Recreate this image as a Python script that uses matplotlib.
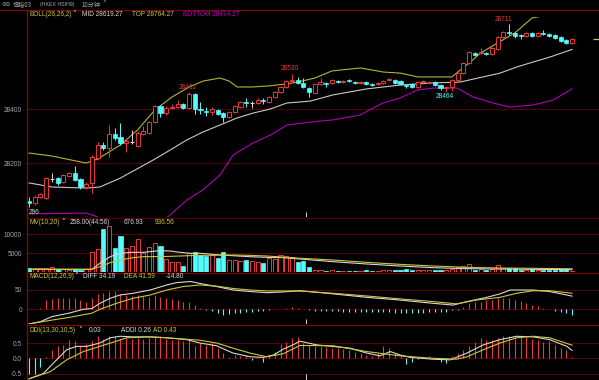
import numpy as np
import matplotlib
matplotlib.use('Agg')
import matplotlib.pyplot as plt
from matplotlib.lines import Line2D

W, H = 599, 380

# ---- 10 minute candles (HSIH9) ----
opens = [28061, 28054, 28076, 28072, 28142, 28146, 28131, 28153, 28164, 28142,
         28113, 28128, 28220, 28268, 28256, 28308, 28297, 28275, 28279, 28264,
         28308, 28312, 28352, 28411, 28385, 28404, 28407, 28418, 28404, 28455,
         28400, 28393, 28389, 28396, 28385, 28371, 28389, 28407, 28426, 28422,
         28422, 28433, 28426, 28444, 28463, 28481, 28503, 28507, 28496, 28477,
         28459, 28492, 28496, 28496, 28503, 28499, 28507, 28499, 28496, 28499,
         28492, 28492, 28496, 28507, 28507, 28503, 28488, 28492, 28481, 28499,
         28496, 28499, 28488, 28477, 28481, 28507, 28532, 28569, 28606, 28606,
         28606, 28602, 28621, 28665, 28683, 28680, 28672, 28669, 28680, 28669,
         28680, 28676, 28672, 28665, 28654, 28643]
closes = [28054, 28076, 28087, 28146, 28142, 28128, 28157, 28164, 28139, 28113,
          28124, 28223, 28268, 28256, 28308, 28293, 28275, 28282, 28279, 28312,
          28319, 28352, 28411, 28385, 28404, 28407, 28418, 28404, 28455, 28400,
          28396, 28389, 28400, 28382, 28371, 28389, 28411, 28426, 28422, 28422,
          28433, 28429, 28444, 28463, 28481, 28503, 28507, 28496, 28481, 28463,
          28492, 28499, 28492, 28507, 28499, 28503, 28503, 28496, 28499, 28492,
          28488, 28496, 28503, 28510, 28496, 28492, 28485, 28481, 28499, 28503,
          28499, 28488, 28477, 28481, 28507, 28532, 28569, 28610, 28599, 28610,
          28602, 28624, 28665, 28683, 28680, 28669, 28669, 28680, 28669, 28680,
          28676, 28669, 28661, 28650, 28643, 28658]
highs = [28076, 28083, 28091, 28150, 28164, 28150, 28160, 28168, 28190, 28146,
         28131, 28231, 28279, 28279, 28341, 28330, 28348, 28290, 28323, 28319,
         28337, 28356, 28415, 28415, 28411, 28418, 28433, 28422, 28462, 28459,
         28426, 28407, 28407, 28400, 28389, 28393, 28415, 28429, 28440, 28429,
         28440, 28440, 28448, 28466, 28485, 28507, 28530, 28518, 28514, 28481,
         28496, 28514, 28499, 28510, 28507, 28507, 28510, 28503, 28503, 28503,
         28496, 28499, 28507, 28514, 28510, 28507, 28492, 28496, 28503, 28507,
         28503, 28503, 28492, 28485, 28510, 28536, 28573, 28613, 28610, 28624,
         28610, 28628, 28669, 28687, 28711, 28683, 28676, 28683, 28683, 28683,
         28691, 28680, 28676, 28669, 28658, 28661]
lows = [28039, 28047, 28072, 28068, 28131, 28120, 28128, 28150, 28135, 28106,
        28106, 28091, 28212, 28249, 28223, 28286, 28268, 28242, 28271, 28260,
        28304, 28308, 28348, 28371, 28378, 28400, 28404, 28400, 28400, 28382,
        28382, 28374, 28378, 28378, 28352, 28367, 28385, 28404, 28407, 28404,
        28418, 28418, 28422, 28440, 28459, 28477, 28499, 28492, 28477, 28444,
        28455, 28488, 28481, 28492, 28496, 28496, 28499, 28492, 28492, 28488,
        28485, 28488, 28492, 28503, 28492, 28488, 28477, 28477, 28477, 28496,
        28492, 28485, 28470, 28464, 28466, 28503, 28529, 28565, 28595, 28602,
        28599, 28599, 28617, 28661, 28672, 28661, 28658, 28665, 28665, 28665,
        28672, 28665, 28658, 28646, 28639, 28639]

# BOLL(26,26,2) lines (index, price)
top_idx = [0, 4, 10, 12, 16, 19, 22, 25, 28, 30.5, 33.4, 35, 36.4, 39, 42, 45, 47,
           50, 53, 58, 62, 65, 68, 71, 74, 75, 77, 79, 82, 85, 88, 89, 92, 95]
top_val = [28238, 28227, 28201, 28216, 28268, 28323, 28396, 28444, 28481, 28503, 28514,
           28503, 28481, 28481, 28485, 28492, 28499, 28514, 28540, 28551, 28536, 28532,
           28518, 28518, 28518, 28536, 28569, 28606, 28643, 28680, 28735, 28739, 28752,
           28764.27]
mid_idx = [0, 4, 10, 12.4, 16, 21.7, 24.7, 27.6, 30.4, 33.4, 36.4, 39.2, 42.2, 45.1,
           49.2, 53.2, 59.1, 64.9, 70.7, 75.4, 79.4, 82.4, 85.4, 88.2, 91.1, 95]
mid_val = [28128, 28113, 28109, 28113, 28146, 28212, 28249, 28286, 28315, 28341, 28367,
           28385, 28400, 28422, 28429, 28452, 28474, 28488, 28496, 28499, 28518, 28532,
           28555, 28573, 28591, 28619.27]
bot_idx = [0, 10, 12, 16, 20, 24.3, 27.6, 30.4, 33.4, 35.7, 39.2, 42.2, 45.1, 49.2,
           53.2, 57.9, 61.9, 64.9, 67.9, 70.7, 74.9, 77.7, 81.2, 84.1, 88.2, 91.7, 95]
bot_val = [28014, 28017, 28003, 27930, 27930, 28003, 28065, 28102, 28157, 28231, 28275,
           28304, 28341, 28352, 28360, 28378, 28422, 28440, 28470, 28477, 28477, 28444,
           28422, 28407, 28415, 28433, 28474.27]

# volume and MV(10,20)
volume = [1200, 1100, 1100, 1100, 1400, 900, 900, 700, 900, 700,
          800, 5260, 6050, 11300, 12200, 6300, 9560, 6300, 6900, 8700,
          5000, 6600, 7600, 6900, 3400, 2800, 2600, 1750, 5000, 5260,
          4560, 4300, 4560, 3860, 5260, 3250, 3250, 3070, 3250, 3070,
          2800, 2540, 3680, 3420, 4560, 4300, 4100, 2800, 3070, 1300,
          600, 500, 400, 500, 400, 400, 400, 400, 400, 500,
          400, 400, 500, 500, 600, 500, 800, 500, 600, 500,
          500, 500, 700, 600, 900, 1300, 1600, 2100, 700, 800,
          600, 900, 1900, 1200, 1050, 1100, 700, 700, 800, 600,
          600, 700, 700, 800, 800, 258]
mv_idx = [0, 11, 12.4, 14.2, 15.9, 18.2, 20, 22.9, 24.7, 26.4, 28.2, 29.9, 32.8, 35.7,
          38.7, 41.6, 44.5, 47.4, 53.2, 59.1, 64.9, 70.7, 76.6, 82.4, 88.2, 95]
mv10 = [789, 789, 2367, 4100, 5000, 5260, 5260, 5700, 5600, 5260, 5000, 5000, 4640,
        4370, 4100, 3940, 3850, 3500, 2796, 2183, 1657, 1218, 955, 868, 789, 676.93]
mv20 = [789, 789, 1480, 2533, 3235, 3850, 4100, 4150, 4200, 4290, 4380, 4466, 4500,
        4550, 4450, 4290, 4000, 3700, 3235, 2622, 2096, 1657, 1306, 1130, 1042, 936.56]

# MACD(12,26,9)
macd_hist = [2, 2, 3, 24, 27, 28, 30, 30, 28, 24,
             20, 28.5, 39, 43, 48, 48, 40, 37, 34.5, 37,
             34.5, 33, 37, 31, 28.5, 26, 24, 20, 20, 11,
             2.6, -1.7, -3.5, -8.6, -14.7, -12, -10, -8.6, -7.8, -6,
             -4.3, -3.5, -1.7, 0.3, 1.7, 3.5, 5, 2.6, 0.5, -3,
             -4, -4, -5, -5, -5, -6, -6, -7, -7, -8,
             -8, -8, -8, -8, -9, -9, -10, -10, -9, -9,
             -8, -8, -8, -6, -3, -1.5, 5, 15.5, 20, 20,
             24, 24, 28.5, 28.5, 28.5, 24, 22, 15.5, 11, 8.6,
             2.6, -0.5, -3.5, -7.8, -10, -14.8]
diff_idx = [0, 2, 4, 7, 9.5, 11, 12.4, 14.2, 15.9, 18.2, 21.2, 24.1, 25.8, 28.2, 29.9,
            32.8, 35.7, 38.7, 41.6, 44.5, 47.4, 53.2, 59.1, 64.9, 70.7, 74.2, 76.6,
            80.1, 82.4, 84.2, 88.2, 91.1, 94.1, 95]
diff_val = [-38, -32, -19, -10, 0, 2, 15.5, 28.5, 37, 41.5, 50, 63, 69, 72, 67, 59, 50,
            46, 43, 45, 48, 40, 31, 24, 15.5, 11, 20, 31, 40, 50, 50, 46, 37, 34.19]
dea_idx = [0, 4, 7, 11, 12.4, 15.3, 18.2, 21.2, 24.1, 27, 29.9, 32.8, 35.7, 38.7,
           41.6, 47.4, 53.2, 59.1, 64.9, 70.7, 74.8, 78.3, 82.4, 85.3, 88.2, 91.1, 95]
dea_val = [-38, -28, -21, -10, 0, 15.5, 28.5, 37, 50, 59, 63, 60, 54, 50, 47.5, 47.5,
           41.5, 34.5, 27, 20, 14, 24, 31, 41.5, 48, 48, 41.59]

# DDI(13,30,10,5)
ddi_hist = [-0.52, -0.52, -0.28, 0.05, 0.26, 0.41, 0.44, 0.59, 0.56, 0.41,
            0.48, 0.56, 0.72, 0.63, 0.74, 0.72, 0.63, 0.67, 0.63, 0.67,
            0.63, 0.67, 0.70, 0.72, 0.63, 0.59, 0.59, 0.56, 0.61, 0.41,
            0.50, 0.44, 0.50, 0.33, 0.17, 0.05, 0.11, 0.08, 0.11, -0.05,
            0.03, -0.11, 0.11, 0.22, 0.48, 0.52, 0.67, 0.70, 0.50, 0.44,
            0.39, 0.41, 0.37, 0.33, 0.33, 0.30, 0.28, 0.22, 0.17, 0.11,
            0.08, 0.17, 0.41, 0.33, 0.17, 0.06, -0.17, -0.11, -0.03, 0.03,
            0.06, 0.0, -0.11, -0.14, 0.08, 0.17, 0.26, 0.39, 0.52, 0.67,
            0.61, 0.59, 0.67, 0.72, 0.72, 0.70, 0.72, 0.70, 0.63, 0.61,
            0.52, 0.56, 0.44, 0.33, 0.28, 0.03]
addi_idx = [0, 2.5, 4.2, 6.6, 8.3, 10.1, 12.4, 14.2, 15.9, 18.2, 21.2, 24.1, 27.6, 29.9,
            32.8, 35.7, 38.7, 41, 42.8, 44.5, 46.2, 47.4, 50.3, 56.2, 59.1, 61.4, 63.2,
            64.9, 66.7, 70.7, 73.7, 76.6, 79.5, 82.4, 85.3, 88.2, 91.1, 94.1, 95]
addi_val = [-0.67, -0.5, -0.17, 0.28, 0.39, 0.39, 0.5, 0.67, 0.72, 0.70, 0.70, 0.67,
            0.61, 0.5, 0.41, 0.17, 0.05, 0.03, 0.11, 0.3, 0.44, 0.56, 0.44, 0.33, 0.17,
            0.08, 0.22, 0.11, 0.03, -0.03, -0.05, 0.17, 0.44, 0.61, 0.72, 0.70, 0.61,
            0.39, 0.26]
ad_idx = [0, 3.7, 6.6, 9.5, 12.4, 15.3, 17.1, 21.2, 24.1, 29.9, 32.8, 35.7, 38.7, 41.6,
          44.5, 47.4, 53.2, 59.1, 64.9, 70.7, 74.8, 76.6, 79.5, 82.4, 85.3, 88.2, 91.1, 95]
ad_val = [-0.67, -0.44, -0.05, 0.22, 0.39, 0.56, 0.67, 0.70, 0.67, 0.59, 0.5, 0.33,
          0.17, 0.05, 0.15, 0.42, 0.41, 0.22, 0.08, 0.0, -0.03, 0.05, 0.28, 0.5, 0.67,
          0.72, 0.67, 0.43]

RED = '#e83a3a'
CYAN = '#54fcfc'
YEL = '#c8c83c'
WHITE = '#d8d8d8'
PURPLE = '#b000b4'
GRID = '#5a0000'
SEP = '#8c0000'
GRAY = '#a8a8a8'
LATIN = ['Liberation Sans', 'DejaVu Sans']
CJK = ['Noto Sans CJK SC', 'DejaVu Sans']
FS = 4.7

fig = plt.figure(figsize=(W / 100, H / 100), dpi=100, facecolor='black')


def panel(y0, y1, ylim, ticks, labels):
    ax = fig.add_axes([27 / W, 1 - y1 / H, (W - 27) / W, (y1 - y0) / H])
    ax.set_facecolor('black')
    ax.set_xlim(-0.35, 99.72)
    ax.set_ylim(*ylim)
    for s in ax.spines.values():
        s.set_visible(False)
    ax.set_xticks([])
    ax.set_yticks(ticks)
    ax.set_yticklabels(labels, family=LATIN)
    ax.tick_params(axis='y', length=0, pad=3.6, labelsize=FS, labelcolor=GRAY)
    for t in ticks:
        ax.axhline(t, color=GRID, lw=0.7, zorder=0)
    return ax


def ftxt(x, y, s, c, fam=LATIN, size=FS, ha='left'):
    fig.text(x / W, 1 - y / H, s, color=c, fontsize=size, family=fam, ha=ha, va='center')


def hsep(y, x0=27, x1=W, c=SEP):
    fig.add_artist(Line2D([x0 / W, x1 / W], [1 - y / H] * 2, color=c, lw=0.8))


n = len(opens)
x = np.arange(n)
o, c, hi, lo = map(np.array, (opens, closes, highs, lows))
up, dn, eq = c > o, c < o, c == o

# ---- main price panel ----
ax = panel(17, 217, (28400 - 108 * 3.68, 28400 + 92 * 3.68), [28200, 28400], ['28200', '28400'])
ax.plot(top_idx, top_val, color='#b4b432', lw=0.8, zorder=1)
ax.plot(mid_idx, mid_val, color='#c8c8c8', lw=0.8, zorder=1)
ax.plot(bot_idx, bot_val, color=PURPLE, lw=0.8, zorder=1)

ax.vlines(x[up], c[up], hi[up], color=RED, lw=0.7, zorder=2)
ax.vlines(x[up], lo[up], o[up], color=RED, lw=0.7, zorder=2)
ax.bar(x[up], c[up] - o[up], bottom=o[up], width=0.72, facecolor='black',
       edgecolor=RED, lw=0.7, zorder=3)
ax.vlines(x[dn], lo[dn], hi[dn], color=CYAN, lw=0.7, zorder=2)
ax.bar(x[dn], o[dn] - c[dn], bottom=c[dn], width=0.72, facecolor=CYAN,
       edgecolor=CYAN, lw=0.5, zorder=3)
ax.vlines(x[eq], lo[eq], hi[eq], color=WHITE, lw=0.7, zorder=2)
ax.hlines(o[eq], x[eq] - 0.38, x[eq] + 0.38, color=WHITE, lw=0.8, zorder=3)

# high / low marks
ax.text(28 - 0.2, highs[28] + 6, '28462', color=RED, fontsize=FS, family=LATIN, ha='center', va='bottom')
ax.text(46 - 0.4, highs[46] + 6, '28530', color=RED, fontsize=FS, family=LATIN, ha='center', va='bottom')
ax.text(84 - 1.0, highs[84] + 4, '28711', color=RED, fontsize=FS, family=LATIN, ha='center', va='bottom')
ax.text(73 - 0.2, lows[73] - 6, '28464', color=CYAN, fontsize=FS, family=LATIN, ha='center', va='top')
ax.text(0.9, 28020, '296', color='#b8e8b0', fontsize=FS, family=LATIN, ha='center', va='center')
ax.hlines(closes[-1], 98.6, 99.72, color=YEL, lw=0.9)
ax.vlines(48.5, ax.get_ylim()[0], ax.get_ylim()[0] + 18, color=WHITE, lw=0.7)

# ---- volume panel ----
av = panel(225, 272.3, (0, 47.3 / 19 * 5000), [5000, 10000], ['5000', '10000'])
v = np.array(volume)
av.bar(x[~dn], v[~dn], width=0.72, facecolor='black', edgecolor=RED, lw=0.7)
av.bar(x[dn], v[dn], width=0.72, facecolor=CYAN, edgecolor=CYAN, lw=0.5)
av.plot(mv_idx, mv10, color=WHITE, lw=0.8)
av.plot(mv_idx, mv20, color=YEL, lw=0.8)

# ---- MACD panel ----
am = panel(281, 324, (-14.7 / 19.3 * 50, 28.3 / 19.3 * 50), [0, 50], ['0', '50'])
mh = np.array(macd_hist)
am.vlines(x, 0, mh, colors=np.where(mh >= 0, RED, CYAN), lw=0.8)
am.plot(diff_idx, diff_val, color=WHITE, lw=0.8)
am.plot(dea_idx, dea_val, color=YEL, lw=0.8)
am.vlines(48.5, am.get_ylim()[0], am.get_ylim()[0] + 13, color=WHITE, lw=0.7)

# ---- DDI panel ----
ad = panel(334, 380, (-21.7 / 30.6, 24.3 / 30.6), [-0.5, 0.0, 0.5], ['-0.5', '0.0', '0.5'])
dh = np.array(ddi_hist)
ad.vlines(x, 0, dh, colors=np.where(dh >= 0, RED, CYAN), lw=0.8)
ad.plot(addi_idx, addi_val, color=WHITE, lw=0.8)
ad.plot(ad_idx, ad_val, color=YEL, lw=0.8)
ad.vlines(48.5, ad.get_ylim()[0], ad.get_ylim()[0] + 0.2, color=WHITE, lw=0.7)

# ---- frame lines ----
hsep(9.5, 0, W)
hsep(218.5, c=GRID)
hsep(272.8)
hsep(324.5)
hsep(379.5)
fig.add_artist(Line2D([27 / W] * 2, [0, 1 - 9.5 / H], color='#a00000', lw=0.9))

# ---- header and legends ----
ftxt(1, 4.5, '⊖⊖', GRAY, fam=['DejaVu Sans'], size=4)
ftxt(13, 4.5, '恒指03', GRAY, fam=CJK, size=4.4)
ftxt(40, 4.5, '(HKEX HSIH9)', GRAY, size=3.8)
ftxt(82, 4.5, '10分钟', GRAY, fam=CJK, size=4.4)
ftxt(102, 4.5, '˅', GRAY, fam=['DejaVu Sans'], size=5.5)

ftxt(29, 14, 'BOLL(26,26,2)', YEL)
ftxt(72, 14, '˅', WHITE, fam=['DejaVu Sans'], size=5.5)
ftxt(82, 14, 'MID 28619.27', WHITE)
ftxt(132, 14, 'TOP 28764.27', YEL)
ftxt(183, 14, 'BOTTOM 28474.27', '#c000c8')

ftxt(29, 222, 'MV(10,20)', YEL)
ftxt(61, 222, '˅', WHITE, fam=['DejaVu Sans'], size=5.5)
ftxt(70, 222, '258.00(44:56)', WHITE)
ftxt(124, 222, '676.93', WHITE)
ftxt(155, 222, '936.56', YEL)

ftxt(29, 277, 'MACD(12,26,9)', YEL)
ftxt(74, 277, '˅', WHITE, fam=['DejaVu Sans'], size=5.5)
ftxt(83, 277, 'DIFF 34.19', WHITE)
ftxt(124, 277, 'DEA 41.59', YEL)
ftxt(166, 277, '-14.80', WHITE)

ftxt(29, 330, 'DDI(13,30,10,5)', YEL)
ftxt(78, 330, '˅', WHITE, fam=['DejaVu Sans'], size=5.5)
ftxt(89, 330, '0.03', WHITE)
ftxt(121, 330, 'ADDI 0.26', WHITE)
ftxt(153, 330, 'AD 0.43', YEL)

fig.savefig('out.png', dpi=100, facecolor='black')
